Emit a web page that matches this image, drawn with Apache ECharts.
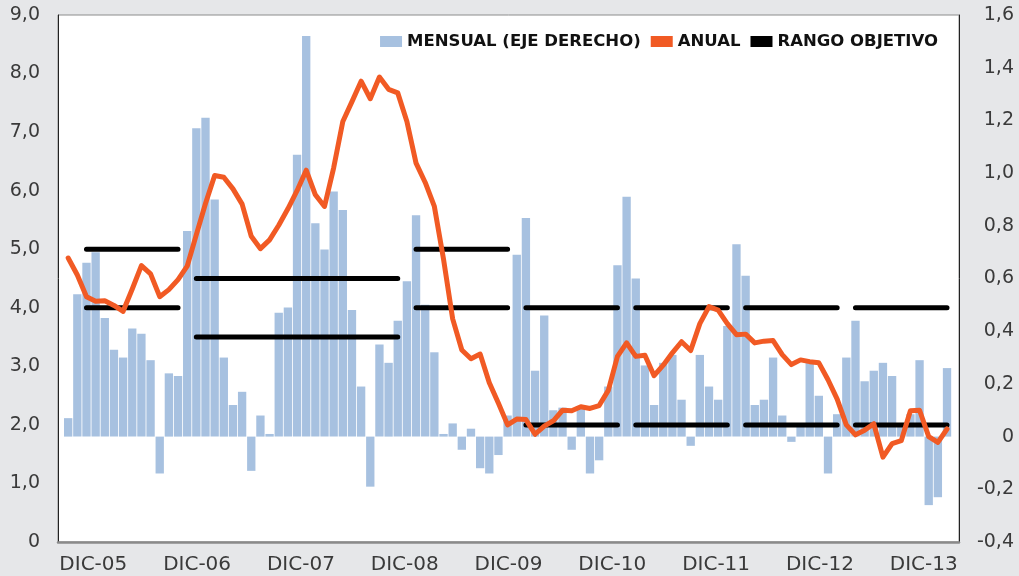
<!DOCTYPE html>
<html>
<head>
<meta charset="utf-8">
<script src="https://cdn.jsdelivr.net/npm/echarts@6/dist/echarts.min.js"></script>
<style>
  html, body { margin: 0; padding: 0; background: #e6e7e9; }
  #chart { width: 1019px; height: 576px; }
</style>
</head>
<body>
<div id="chart"></div>
<script>
// meses: dic-05 ... dic-13
const mesesAbrev = ['ENE', 'FEB', 'MAR', 'ABR', 'MAY', 'JUN', 'JUL', 'AGO', 'SEP', 'OCT', 'NOV', 'DIC'];
const etiquetasEje = ['DIC-05', 'DIC-06', 'DIC-07', 'DIC-08', 'DIC-09', 'DIC-10', 'DIC-11', 'DIC-12', 'DIC-13'];

// variacion mensual (eje derecho)
const mensual = [
  0.07,
  0.54, 0.66, 0.70, 0.45, 0.33, 0.30, 0.41, 0.39, 0.29, -0.14, 0.24, 0.23,
  0.78, 1.17, 1.21, 0.90, 0.30, 0.12, 0.17, -0.13, 0.08, 0.01, 0.47, 0.49,
  1.07, 1.52, 0.81, 0.71, 0.93, 0.86, 0.48, 0.19, -0.19, 0.35, 0.28, 0.44,
  0.59, 0.84, 0.50, 0.32, 0.01, 0.05, -0.05, 0.03, -0.12, -0.14, -0.07, 0.08,
  0.69, 0.83, 0.25, 0.46, 0.10, 0.11, -0.05, 0.11, -0.14, -0.09, 0.19, 0.65,
  0.91, 0.60, 0.27, 0.12, 0.28, 0.31, 0.14, -0.035, 0.31, 0.19, 0.14, 0.42,
  0.73, 0.61, 0.12, 0.14, 0.30, 0.08, -0.02, 0.04, 0.28, 0.155, -0.14, 0.085,
  0.30, 0.44, 0.21, 0.25, 0.28, 0.23, 0.04, 0.085, 0.29, -0.26, -0.23, 0.26
];

// variacion anual (eje izquierdo)
const anual = [
  4.85,
  4.56, 4.19, 4.11, 4.12, 4.04, 3.94, 4.32, 4.72, 4.58, 4.19, 4.31, 4.48,
  4.71, 5.25, 5.78, 6.26, 6.23, 6.03, 5.77, 5.22, 5.01, 5.16, 5.41, 5.69,
  6.00, 6.35, 5.93, 5.73, 6.39, 7.18, 7.52, 7.87, 7.57, 7.94, 7.73, 7.67,
  7.18, 6.47, 6.14, 5.73, 4.83, 3.81, 3.28, 3.13, 3.21, 2.72, 2.37, 2.00,
  2.10, 2.09, 1.84, 1.98, 2.07, 2.25, 2.24, 2.31, 2.28, 2.33, 2.59, 3.17,
  3.40, 3.17, 3.19, 2.84, 3.02, 3.23, 3.42, 3.27, 3.73, 4.02, 3.96, 3.73,
  3.54, 3.55, 3.40, 3.43, 3.44, 3.20, 3.03, 3.11, 3.08, 3.06, 2.77, 2.44,
  2.00, 1.83, 1.91, 2.02, 1.45, 1.68, 1.73, 2.24, 2.25, 1.80, 1.70, 1.93
];

// rango objetivo: tramos [desde, hasta, inferior, superior]
const metaDesde = ['FEB-06', 'FEB-07', 'FEB-09', 'FEB-10', 'FEB-11', 'FEB-12', 'FEB-13'];
const metaHasta = ['DIC-06', 'DIC-08', 'DIC-09', 'DIC-10', 'DIC-11', 'DIC-12', 'DIC-13'];
const metaInf = [4.0, 3.5, 4.0, 2.0, 2.0, 2.0, 2.0];
const metaSup = [5.0, 4.5, 5.0, 4.0, 4.0, 4.0, 4.0];

const meses = [];
for (let i = 0; i < mensual.length; i++) {
  const m = (11 + i) % 12;
  const y = 2005 + Math.floor((11 + i) / 12);
  meses.push(mesesAbrev[m] + '-' + String(y).slice(2));
}
const rangoInf = meses.map(() => null);
const rangoSup = meses.map(() => null);
metaDesde.forEach((d, k) => {
  const a = meses.indexOf(d);
  const b = meses.indexOf(metaHasta[k]);
  for (let i = a; i <= b; i++) {
    rangoInf[i] = metaInf[k];
    rangoSup[i] = metaSup[k];
  }
});

const fmt = (v) => (Math.abs(v) < 1e-9 ? '0' : v.toFixed(1).replace('.', ','));
const fuente = 'DejaVu Sans';

const chart = echarts.init(document.getElementById('chart'));
const option = {
  backgroundColor: '#e6e7e9',
  animation: false,
  legend: {
    right: 76,
    top: 28,
    icon: 'rect',
    itemWidth: 22,
    itemHeight: 11,
    itemGap: 10,
    textStyle: { fontFamily: fuente, fontWeight: 'bold', fontSize: 16.5, color: '#111' },
    data: ['MENSUAL (EJE DERECHO)', 'ANUAL', 'RANGO OBJETIVO']
  },
  grid: [
    // marco
    { left: 58, right: 60, top: 15, bottom: 34, show: true, backgroundColor: '#fff', borderColor: '#8c8c8c', borderWidth: 1 },
    // datos
    { left: 63.6, right: 67.4, top: 15, bottom: 34 }
  ],
  xAxis: [
    {
      gridIndex: 0,
      type: 'value',
      min: -0.34,
      max: 8.34,
      axisLine: { show: true, onZero: false, lineStyle: { color: '#8a8a8a', width: 2.5 } },
      axisTick: { show: false },
      splitLine: { show: false },
      axisLabel: {
        customValues: [0, 1, 2, 3, 4, 5, 6, 7, 8],
        formatter: (v) => etiquetasEje[Math.round(v)] || '',
        margin: 13,
        fontFamily: fuente,
        fontSize: 20,
        color: '#3a3a3a'
      }
    },
    {
      gridIndex: 1,
      type: 'category',
      data: meses,
      show: false
    }
  ],
  yAxis: [
    {
      gridIndex: 0,
      type: 'value',
      min: 0,
      max: 9,
      interval: 1,
      axisLine: { show: true, onZero: false, lineStyle: { color: '#222', width: 1 } },
      axisTick: { show: false },
      splitLine: { show: false },
      axisLabel: { formatter: fmt, margin: 18, padding: [6, 0, 0, 0], fontFamily: fuente, fontSize: 19, color: '#3a3a3a' }
    },
    {
      gridIndex: 0,
      type: 'value',
      position: 'right',
      min: -0.4,
      max: 1.6,
      interval: 0.2,
      axisLine: { show: true, onZero: false, lineStyle: { color: '#222', width: 1 } },
      axisTick: { show: false },
      splitLine: { show: false },
      axisLabel: { formatter: fmt, margin: 55, align: 'right', padding: [6, 0, 0, 0], fontFamily: fuente, fontSize: 19, color: '#3a3a3a' }
    },
    { gridIndex: 1, type: 'value', min: 0, max: 9, show: false, splitLine: { show: false } },
    { gridIndex: 1, type: 'value', min: -0.4, max: 1.6, show: false, splitLine: { show: false } }
  ],
  series: [
    {
      name: 'MENSUAL (EJE DERECHO)',
      type: 'bar',
      xAxisIndex: 1,
      yAxisIndex: 3,
      barCategoryGap: '9%',
      itemStyle: { color: '#a7c1e0' },
      data: mensual,
      z: 2
    },
    {
      name: 'RANGO OBJETIVO',
      type: 'line',
      xAxisIndex: 1,
      yAxisIndex: 2,
      symbol: 'none',
      color: '#000',
      lineStyle: { color: '#000', width: 5, cap: 'round', join: 'round' },
      connectNulls: false,
      data: rangoSup,
      z: 3
    },
    {
      name: 'RANGO OBJETIVO',
      type: 'line',
      xAxisIndex: 1,
      yAxisIndex: 2,
      symbol: 'none',
      color: '#000',
      lineStyle: { color: '#000', width: 5, cap: 'round', join: 'round' },
      connectNulls: false,
      data: rangoInf,
      z: 3
    },
    {
      name: 'ANUAL',
      type: 'line',
      xAxisIndex: 1,
      yAxisIndex: 2,
      symbol: 'none',
      color: '#f15a24',
      lineStyle: { color: '#f15a24', width: 5, cap: 'round', join: 'round' },
      data: anual,
      z: 4
    }
  ]
};
chart.setOption(option);
</script>
</body>
</html>
